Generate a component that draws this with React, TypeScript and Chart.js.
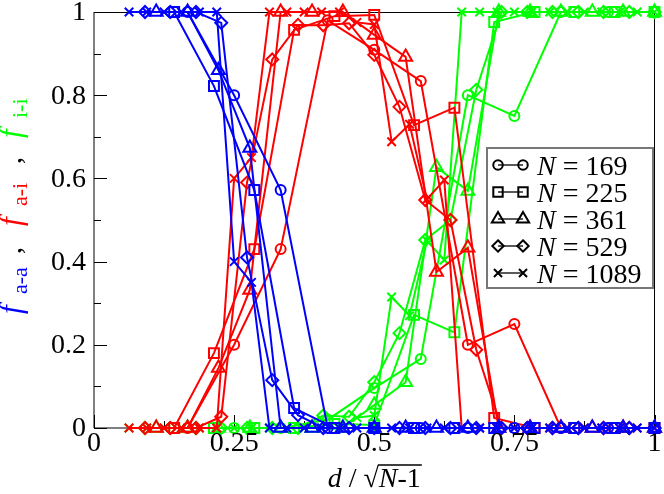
import React, { useEffect, useRef } from 'react';
import { Chart, registerables } from 'chart.js';

Chart.register(...registerables);

// ---- data (x = d / sqrt(N-1)) ----
const X_169 = [0.167, 0.25, 0.333, 0.417, 0.5, 0.583, 0.667, 0.75, 0.833, 0.917, 1.0];
const BLUE_169 = [1, 0.8, 0.572, 0, 0, 0, 0, 0, 0, 0, 0];
const RED_169 = [0, 0.2, 0.43, 0.98, 0.909, 0.834, 0.2, 0.25, 0, 0, 0];
const GREEN_169 = [0, 0, 0, 0.02, 0.096, 0.166, 0.8, 0.75, 1, 1, 1];

const X_225 = [0.143, 0.214, 0.286, 0.357, 0.429, 0.5, 0.571, 0.643, 0.714, 0.786, 0.857, 0.929, 1.0];
const BLUE_225 = [1, 0.822, 0.572, 0.048, 0, 0, 0, 0, 0, 0, 0, 0, 0];
const RED_225 = [0, 0.18, 0.43, 0.957, 0.99, 0.993, 0.728, 0.77, 0.024, 0, 0, 0, 0];
const GREEN_225 = [0, 0, 0, 0, 0.01, 0.007, 0.272, 0.23, 0.976, 1, 1, 1, 1];

const X_361 = [0.111, 0.167, 0.222, 0.278, 0.333, 0.389, 0.444, 0.5, 0.556, 0.611, 0.667, 0.722, 0.778, 0.833, 0.889, 0.944, 1.0];
const BLUE_361 = [1, 1, 0.86, 0.673, 0, 0, 0, 0, 0, 0, 0, 0, 0, 0, 0, 0, 0];
const RED_361 = [0, 0, 0.144, 0.332, 1, 1, 1, 0.945, 0.892, 0.375, 0.433, 0, 0, 0, 0, 0, 0];
const GREEN_361 = [0, 0, 0, 0, 0, 0, 0, 0.055, 0.11, 0.627, 0.57, 1, 1, 1, 1, 1, 1];

const X_529 = [0.091, 0.136, 0.182, 0.227, 0.273, 0.318, 0.364, 0.409, 0.455, 0.5, 0.545, 0.591, 0.636, 0.682, 0.727, 0.773, 0.818, 0.864, 0.909, 0.955, 1.0];
const BLUE_529 = [1, 1, 1, 0.974, 0.41, 0.115, 0.031, 0, 0, 0, 0, 0, 0, 0, 0, 0, 0, 0, 0, 0, 0];
const RED_529 = [0, 0, 0, 0.027, 0.59, 0.886, 0.969, 0.968, 0.973, 0.897, 0.772, 0.548, 0.5, 0.188, 0, 0, 0, 0, 0, 0, 0];
const GREEN_529 = [0, 0, 0, 0, 0, 0, 0, 0.03, 0.027, 0.11, 0.228, 0.452, 0.5, 0.813, 1, 1, 1, 1, 1, 1, 1];

const X_1089 = [0.0625, 0.094, 0.125, 0.156, 0.188, 0.219, 0.25, 0.281, 0.313, 0.344, 0.375, 0.406, 0.438, 0.469, 0.5, 0.531, 0.563, 0.594, 0.625, 0.656, 0.688, 0.719, 0.75, 0.781, 0.813, 0.844, 0.875, 0.906, 0.938, 0.969, 1.0];
const BLUE_1089 = [1, 1, 1, 1, 1, 1, 0.4, 0.35, 0, 0, 0, 0, 0, 0, 0, 0, 0, 0, 0, 0, 0, 0, 0, 0, 0, 0, 0, 0, 0, 0, 0];
const RED_1089 = [0, 0, 0, 0, 0, 0, 0.6, 0.65, 1, 1, 1, 1, 1, 0.975, 0.97, 0.688, 0.73, 0.55, 0.596, 0, 0, 0, 0, 0, 0, 0, 0, 0, 0, 0, 0];
const GREEN_1089 = [0, 0, 0, 0, 0, 0, 0, 0, 0, 0, 0, 0, 0, 0.025, 0.03, 0.315, 0.27, 0.45, 0.404, 1, 1, 1, 1, 1, 1, 1, 1, 1, 1, 1, 1];

const LEGEND_N = ['169', '225', '361', '529', '1089'];
const X_TICKS = [0, 0.25, 0.5, 0.75, 1];
const X_TICK_LABELS = ['0', '0.25', '0.5', '0.75', '1'];
const X_MINOR = [0.125, 0.375, 0.625, 0.875];
const Y_TICKS = [0, 0.2, 0.4, 0.6, 0.8, 1];
const Y_TICK_LABELS = ['0', '0.2', '0.4', '0.6', '0.8', '1'];
const Y_MINOR = [0.1, 0.3, 0.5, 0.7, 0.9];

const BLUE = '#0000ff';
const RED = '#ff0000';
const GREEN = '#00ff00';
const SERIF = '"Liberation Serif", "Times New Roman", serif';

const GROUPS = [
  { x: X_169, blue: BLUE_169, red: RED_169, green: GREEN_169, style: 'circle', r: 5 },
  { x: X_225, blue: BLUE_225, red: RED_225, green: GREEN_225, style: 'rect', r: 7 },
  { x: X_361, blue: BLUE_361, red: RED_361, green: GREEN_361, style: 'triangle', r: 7.5 },
  { x: X_529, blue: BLUE_529, red: RED_529, green: GREEN_529, style: 'rectRot', r: 6 },
  { x: X_1089, blue: BLUE_1089, red: RED_1089, green: GREEN_1089, style: 'crossRot', r: 6 },
];

function drawMarker(ctx: CanvasRenderingContext2D, style: string, x: number, y: number, r: number) {
  ctx.beginPath();
  if (style === 'circle') {
    ctx.arc(x, y, r, 0, Math.PI * 2);
  } else if (style === 'rect') {
    const s = r * Math.SQRT1_2;
    ctx.rect(x - s, y - s, 2 * s, 2 * s);
  } else if (style === 'triangle') {
    for (let i = 0; i < 3; i++) {
      const a = (i * 2 * Math.PI) / 3;
      const px = x + Math.sin(a) * r;
      const py = y - Math.cos(a) * r;
      if (i === 0) ctx.moveTo(px, py); else ctx.lineTo(px, py);
    }
    ctx.closePath();
  } else if (style === 'rectRot') {
    ctx.moveTo(x, y - r);
    ctx.lineTo(x + r, y);
    ctx.lineTo(x, y + r);
    ctx.lineTo(x - r, y);
    ctx.closePath();
  } else {
    const o = r * Math.SQRT1_2;
    ctx.moveTo(x - o, y - o);
    ctx.lineTo(x + o, y + o);
    ctx.moveTo(x + o, y - o);
    ctx.lineTo(x - o, y + o);
  }
  ctx.stroke();
}

const framePlugin = {
  id: 'frame',
  beforeDatasetsDraw(chart: any) {
    const { ctx, chartArea, scales } = chart;
    const { left, right, top, bottom } = chartArea;
    ctx.save();
    ctx.strokeStyle = '#000';
    ctx.lineWidth = 1;
    ctx.beginPath();
    ctx.moveTo(left, top + 0.5);
    ctx.lineTo(right, top + 0.5);
    ctx.stroke();
    ctx.beginPath();
    ctx.moveTo(left, top);
    ctx.lineTo(left, bottom);
    ctx.lineTo(right, bottom);
    ctx.lineTo(right, top);
    ctx.stroke();
    ctx.beginPath();
    Y_TICKS.forEach((v) => {
      const y = Math.round(scales.y.getPixelForValue(v)) + 0.5;
      ctx.moveTo(left, y);
      ctx.lineTo(left + 13, y);
    });
    Y_MINOR.forEach((v) => {
      const y = Math.round(scales.y.getPixelForValue(v)) + 0.5;
      ctx.moveTo(left, y);
      ctx.lineTo(left + 7, y);
    });
    X_TICKS.forEach((v) => {
      const x = Math.round(scales.x.getPixelForValue(v)) + 0.5;
      ctx.moveTo(x, bottom);
      ctx.lineTo(x, bottom - 13);
    });
    X_MINOR.forEach((v) => {
      const x = Math.round(scales.x.getPixelForValue(v)) + 0.5;
      ctx.moveTo(x, bottom);
      ctx.lineTo(x, bottom - 7);
    });
    ctx.stroke();
    ctx.restore();
  },
  afterDraw(chart: any) {
    const { ctx, chartArea, scales } = chart;
    const { left, bottom } = chartArea;
    ctx.save();
    ctx.fillStyle = '#000';
    ctx.font = `28px ${SERIF}`;
    ctx.textAlign = 'right';
    ctx.textBaseline = 'middle';
    Y_TICKS.forEach((v, i) => {
      ctx.fillText(Y_TICK_LABELS[i], left - 8, scales.y.getPixelForValue(v) + 1);
    });
    ctx.textAlign = 'center';
    ctx.textBaseline = 'alphabetic';
    X_TICKS.forEach((v, i) => {
      ctx.fillText(X_TICK_LABELS[i], scales.x.getPixelForValue(v), bottom + 23);
    });

    // x title: d / sqrt(N-1)
    ctx.textAlign = 'left';
    const italic = `italic 28px ${SERIF}`;
    const normal = `28px ${SERIF}`;
    const parts: [string, string][] = [
      ['d', italic],
      [' / ', normal],
      ['\u221A', normal],
      ['N', italic],
      ['-1', normal],
    ];
    let total = 0;
    const widths = parts.map(([t, f]) => {
      ctx.font = f;
      const w = ctx.measureText(t).width;
      total += w;
      return w;
    });
    const cx = scales.x.getPixelForValue(0.5);
    let xx = cx - total / 2;
    const base = 487;
    let overStart = 0;
    parts.forEach(([t, f], i) => {
      ctx.font = f;
      if (i === 3) overStart = xx;
      ctx.fillText(t, xx, base);
      xx += widths[i];
    });
    ctx.beginPath();
    ctx.lineWidth = 1.3;
    ctx.strokeStyle = '#000';
    ctx.moveTo(overStart - 1, base - 22);
    ctx.lineTo(xx + 1, base - 22);
    ctx.stroke();

    // y title (rotated, reads bottom to top)
    ctx.save();
    ctx.translate(21, 316);
    ctx.rotate(-Math.PI / 2);
    ctx.textAlign = 'left';
    ctx.textBaseline = 'alphabetic';
    const fFont = `italic 31px ${SERIF}`;
    const subFont = `22px ${SERIF}`;
    const segs: [string, string, string, number, number][] = [
      ['f', fFont, BLUE, 0, 2],
      ['a-a', subFont, BLUE, 6, 22],
      [',', normal, '#000', 0, 62],
      ['f', fFont, RED, 0, 90],
      ['a-i', subFont, RED, 6, 110],
      [',', normal, '#000', 0, 152],
      ['f', fFont, GREEN, 0, 178],
      ['i-i', subFont, GREEN, 6, 198],
    ];
    segs.forEach(([s, f, c, dy, pos]) => {
      ctx.font = f;
      ctx.fillStyle = c;
      ctx.fillText(s, pos, dy);
    });
    ctx.restore();

    // legend
    const lx = 487, ly = 148, lw = 166, lh = 140;
    ctx.fillStyle = '#fff';
    ctx.fillRect(lx, ly, lw, lh);
    ctx.strokeStyle = '#777';
    ctx.lineWidth = 2;
    ctx.strokeRect(lx, ly, lw, lh);
    GROUPS.forEach((g, i) => {
      const y = 165 + i * 27;
      ctx.strokeStyle = '#000';
      ctx.lineWidth = 1.3;
      ctx.beginPath();
      ctx.moveTo(498, y);
      ctx.lineTo(523, y);
      ctx.stroke();
      ctx.lineWidth = 2;
      drawMarker(ctx, g.style, 498, y, g.r * 0.95);
      drawMarker(ctx, g.style, 523, y, g.r * 0.95);
      ctx.fillStyle = '#000';
      ctx.font = italic;
      ctx.fillText('N', 537, y + 10);
      const nw = ctx.measureText('N').width;
      ctx.font = normal;
      ctx.fillText(' = ' + LEGEND_N[i], 537 + nw, y + 10);
    });
    ctx.restore();
  },
};

export default function App() {
  const ref = useRef<HTMLCanvasElement>(null);
  useEffect(() => {
    document.body.style.margin = '0';
    const canvas = ref.current!;
    const datasets: any[] = [];
    const colorKeys: ['blue' | 'red' | 'green', string][] = [
      ['blue', BLUE],
      ['red', RED],
      ['green', GREEN],
    ];
    colorKeys.forEach(([key, col]) => {
      GROUPS.forEach((g) => {
        const ys = (g as any)[key] as number[];
        datasets.push({
          data: g.x.map((x, i) => ({ x, y: ys[i] })),
          borderColor: col,
          pointBorderColor: col,
          pointBackgroundColor: 'rgba(0,0,0,0)',
          pointStyle: g.style,
          pointRadius: g.r,
          pointBorderWidth: 2,
          borderWidth: 2,
          fill: false,
          tension: 0,
          clip: false,
        });
      });
    });
    const chart = new Chart(canvas, {
      type: 'line',
      data: { datasets },
      options: {
        responsive: false,
        animation: false,
        events: [],
        layout: { padding: { left: 94, top: 12, right: 8, bottom: 66 } },
        plugins: { legend: { display: false }, tooltip: { enabled: false } },
        scales: {
          x: { type: 'linear', min: 0, max: 1, display: false },
          y: { type: 'linear', min: 0, max: 1, display: false },
        },
      },
      plugins: [framePlugin],
    });
    return () => chart.destroy();
  }, []);
  return <canvas ref={ref} width={664} height={494} style={{ display: 'block', width: 664, height: 494 }} />;
}
